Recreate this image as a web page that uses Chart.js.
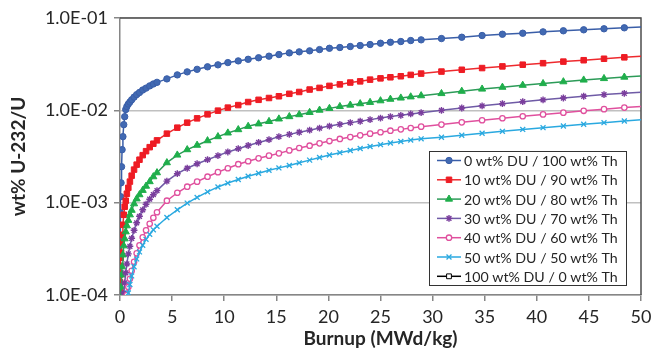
<!DOCTYPE html>
<html>
<head>
<meta charset="utf-8">
<script src="https://cdn.jsdelivr.net/npm/chart.js@4.4.0/dist/chart.umd.min.js"></script>
<style>
  html, body { margin: 0; padding: 0; background: #ffffff; }
  #wrap { width: 668px; height: 352px; position: relative; }
</style>
</head>
<body>
<div id="wrap"><canvas id="u232-chart"></canvas></div>
<script>
// burnup steps (MWd/kg), shared by every series
const burnup = [0, 0.01, 0.02, 0.04, 0.07, 0.1, 0.15, 0.2, 0.28, 0.36, 0.45, 0.55, 0.66, 0.8, 0.95,
  1.12, 1.35, 1.6, 1.87, 2.18, 2.5, 2.85, 3.2, 3.55, 4.5, 5.5, 6.45, 7.4, 8.4, 9.4, 10.35, 11.35,
  12.3, 13.3, 14.3, 15.25, 16.25, 17.2, 18.2, 19.15, 20.1, 21.1, 22.1, 23.05, 24.0, 25.0, 25.95,
  26.95, 27.9, 28.9, 30.85, 32.8, 34.75, 36.7, 38.65, 40.6, 42.55, 44.5, 46.45, 48.4, 50.35];

// wt% U-232/U for each fuel mix
const du0 = [1.0e-4, 1.74e-4, 4.3e-4, 7.8e-4, 1.16e-3, 1.64e-3, 2.45e-3, 3.75e-3, 5.19e-3, 7.0e-3,
  8.54e-3, 1.02e-2, 1.10e-2, 1.17e-2, 1.23e-2, 1.30e-2, 1.39e-2, 1.48e-2, 1.56e-2, 1.66e-2, 1.74e-2,
  1.84e-2, 1.93e-2, 2.01e-2, 0.0219, 0.0242, 0.0261, 0.0278, 0.0296, 0.0311, 0.0329, 0.0343, 0.0357,
  0.0371, 0.0386, 0.0402, 0.0419, 0.0430, 0.0441, 0.0455, 0.0470, 0.0479, 0.0491, 0.0503, 0.0516,
  0.0533, 0.0546, 0.0556, 0.0570, 0.0580, 0.0599, 0.0619, 0.0646, 0.0667, 0.0684, 0.0708, 0.0727,
  0.0745, 0.0764, 0.0783, 0.0800];
const du10 = [1.1e-4, 1.37e-4, 1.67e-4, 2.07e-4, 2.53e-4, 2.87e-4, 3.68e-4, 4.49e-4, 5.76e-4, 7.39e-4,
  9.03e-4, 1.05e-3, 1.25e-3, 1.45e-3, 1.69e-3, 1.96e-3, 2.28e-3, 2.58e-3, 2.92e-3, 3.27e-3, 3.61e-3,
  3.99e-3, 4.35e-3, 4.73e-3, 5.59e-3, 6.49e-3, 7.35e-3, 8.19e-3, 9.05e-3, 9.92e-3, 1.07e-2, 1.14e-2,
  1.23e-2, 1.30e-2, 1.36e-2, 1.42e-2, 1.51e-2, 1.58e-2, 1.68e-2, 1.75e-2, 1.84e-2, 1.91e-2, 2.00e-2,
  2.06e-2, 2.15e-2, 2.22e-2, 2.28e-2, 2.34e-2, 2.42e-2, 2.50e-2, 2.63e-2, 2.75e-2, 2.87e-2, 2.99e-2,
  3.12e-2, 3.24e-2, 3.37e-2, 3.49e-2, 3.62e-2, 3.75e-2, 3.87e-2];
const du20 = [4.2e-5, 5.4e-5, 6.6e-5, 8.4e-5, 1.05e-4, 1.22e-4, 1.65e-4, 2.02e-4, 2.72e-4, 3.41e-4,
  4.06e-4, 4.84e-4, 5.62e-4, 6.44e-4, 7.39e-4, 8.28e-4, 9.73e-4, 1.10e-3, 1.22e-3, 1.36e-3, 1.51e-3,
  1.69e-3, 1.91e-3, 2.11e-3, 2.71e-3, 3.28e-3, 3.75e-3, 4.19e-3, 4.69e-3, 5.19e-3, 5.69e-3, 6.18e-3,
  6.71e-3, 7.14e-3, 7.58e-3, 8.07e-3, 8.55e-3, 8.98e-3, 9.49e-3, 1.005e-2, 1.05e-2, 1.10e-2, 1.14e-2,
  1.18e-2, 1.22e-2, 1.27e-2, 1.32e-2, 1.36e-2, 1.40e-2, 1.44e-2, 1.52e-2, 1.61e-2, 1.70e-2, 1.78e-2,
  1.87e-2, 1.95e-2, 2.04e-2, 2.13e-2, 2.21e-2, 2.29e-2, 2.37e-2];
const du30 = [4.4e-6, 8.3e-6, 1.06e-5, 1.54e-5, 2.24e-5, 2.88e-5, 3.99e-5, 5.37e-5, 7.81e-5, 1.05e-4,
  1.35e-4, 1.74e-4, 2.17e-4, 2.79e-4, 3.37e-4, 4.11e-4, 5.02e-4, 6.05e-4, 7.12e-4, 8.37e-4, 9.61e-4,
  1.09e-3, 1.22e-3, 1.35e-3, 1.71e-3, 2.06e-3, 2.36e-3, 2.64e-3, 2.92e-3, 3.23e-3, 3.54e-3, 3.84e-3,
  4.16e-3, 4.49e-3, 4.81e-3, 5.19e-3, 5.49e-3, 5.79e-3, 6.10e-3, 6.43e-3, 6.75e-3, 7.05e-3, 7.36e-3,
  7.62e-3, 7.93e-3, 8.25e-3, 8.55e-3, 8.83e-3, 9.14e-3, 9.44e-3, 1.00e-2, 1.06e-2, 1.12e-2, 1.18e-2,
  1.24e-2, 1.30e-2, 1.36e-2, 1.42e-2, 1.48e-2, 1.53e-2, 1.58e-2];
const du40 = [7.7e-7, 1.63e-6, 2.68e-6, 5.01e-6, 8.89e-6, 1.26e-5, 1.98e-5, 2.67e-5, 3.88e-5, 5.11e-5,
  6.56e-5, 8.21e-5, 1.00e-4, 1.22e-4, 1.50e-4, 1.83e-4, 2.29e-4, 2.83e-4, 3.45e-4, 4.21e-4, 5.02e-4,
  5.90e-4, 6.86e-4, 7.87e-4, 1.05e-3, 1.28e-3, 1.49e-3, 1.69e-3, 1.91e-3, 2.14e-3, 2.36e-3, 2.61e-3,
  2.81e-3, 3.02e-3, 3.23e-3, 3.42e-3, 3.68e-3, 3.91e-3, 4.14e-3, 4.39e-3, 4.65e-3, 4.90e-3, 5.13e-3,
  5.36e-3, 5.59e-3, 5.79e-3, 6.02e-3, 6.22e-3, 6.44e-3, 6.66e-3, 7.01e-3, 7.41e-3, 7.81e-3, 8.21e-3,
  8.63e-3, 9.03e-3, 9.44e-3, 9.88e-3, 1.03e-2, 1.07e-2, 1.11e-2];
const du50 = [5e-8, 1.34e-7, 2.83e-7, 7.69e-7, 2.09e-6, 3.9e-6, 8.25e-6, 1.47e-5, 2.54e-5, 3.69e-5,
  5.11e-5, 6.56e-5, 8.42e-5, 1.05e-4, 1.30e-4, 1.61e-4, 2.02e-4, 2.46e-4, 2.93e-4, 3.45e-4, 4.01e-4,
  4.54e-4, 5.08e-4, 5.55e-4, 6.91e-4, 8.37e-4, 9.90e-4, 1.14e-3, 1.31e-3, 1.48e-3, 1.63e-3, 1.78e-3,
  1.93e-3, 2.08e-3, 2.24e-3, 2.38e-3, 2.53e-3, 2.70e-3, 2.89e-3, 3.08e-3, 3.28e-3, 3.48e-3, 3.67e-3,
  3.86e-3, 4.06e-3, 4.25e-3, 4.43e-3, 4.60e-3, 4.76e-3, 4.91e-3, 5.11e-3, 5.37e-3, 5.64e-3, 5.92e-3,
  6.21e-3, 6.49e-3, 6.77e-3, 7.07e-3, 7.35e-3, 7.66e-3, 7.95e-3];
// pure DU stays below the plotted range
const du100 = [];

const seriesLabels = ["0 wt% DU / 100 wt% Th", "10 wt% DU / 90 wt% Th", "20 wt% DU / 80 wt% Th",
  "30 wt% DU / 70 wt% Th", "40 wt% DU / 60 wt% Th", "50 wt% DU / 50 wt% Th", "100 wt% DU / 0 wt% Th"];
const seriesValues = [du0, du10, du20, du30, du40, du50, du100];

const yTickValues = [1e-4, 1e-3, 1e-2, 1e-1];
const yTickLabels = ["1.0E-04", "1.0E-03", "1.0E-02", "1.0E-01"];

const styles = [
  { line: "#3a5ea8", fill: "#4169b2", edge: "#3a5ea8", shape: "circle", r: 3.2, bw: 1 },
  { line: "#ee2a2e", fill: "#ee1c24", edge: "#ee1c24", shape: "rect", r: 3.9, bw: 1 },
  { line: "#2c9b58", fill: "#1fae4b", edge: "#1fae4b", shape: "triangle", r: 4.1, bw: 1 },
  { line: "#6f5ba6", fill: "#7a3e9d", edge: "#7a3e9d", shape: "star", r: 3.4, bw: 1.4 },
  { line: "#e0509e", fill: "#ffffff", edge: "#e0509e", shape: "circle", r: 2.7, bw: 1.3 },
  { line: "#2aa9e0", fill: "#2aa9e0", edge: "#2aa9e0", shape: "crossRot", r: 3.5, bw: 1.3 },
  { line: "#000000", fill: "#ffffff", edge: "#000000", shape: "rect", r: 3.4, bw: 1 },
];

const font = "Lato, 'Open Sans', sans-serif";

const datasets = seriesLabels.map((label, i) => ({
  label: label,
  data: seriesValues[i].map((v, k) => ({ x: burnup[k], y: v })),
  borderColor: styles[i].line,
  borderWidth: 1.5,
  pointStyle: styles[i].shape,
  pointRadius: styles[i].r,
  pointBackgroundColor: styles[i].fill,
  pointBorderColor: styles[i].edge,
  pointBorderWidth: styles[i].bw,
  tension: 0,
  order: 10 - i,
}));

// dark frame on top and right of the plot area
const plotFrame = {
  id: "plotFrame",
  beforeDatasetsDraw(chart) {
    const { ctx, chartArea: a } = chart;
    ctx.save();
    ctx.strokeStyle = "#4d4d4d";
    ctx.lineWidth = 1.5;
    ctx.beginPath();
    ctx.moveTo(a.left, a.top);
    ctx.lineTo(a.right, a.top);
    ctx.lineTo(a.right, a.bottom);
    ctx.stroke();
    ctx.restore();
  },
};

// legend box inside the plot, bottom right
const legendInPlot = {
  id: "legendInPlot",
  afterDatasetsDraw(chart) {
    const { ctx, chartArea } = chart;
    const w = 197, h = 134;
    const left = Math.round(chartArea.right - 15 - w);
    const top = Math.round(chartArea.bottom - 10 - h);
    ctx.save();
    ctx.fillStyle = "#ffffff";
    ctx.fillRect(left, top, w, h);
    ctx.strokeStyle = "#333333";
    ctx.lineWidth = 1;
    ctx.strokeRect(left + 0.5, top + 0.5, w, h);
    ctx.font = "14.2px " + font;
    ctx.textBaseline = "middle";
    ctx.textAlign = "left";
    chart.data.datasets.forEach((ds, i) => {
      const y = top + 9.5 + i * 19.3;
      ctx.strokeStyle = ds.borderColor;
      ctx.lineWidth = 1.5;
      ctx.beginPath();
      ctx.moveTo(left + 8, y);
      ctx.lineTo(left + 32, y);
      ctx.stroke();
      ctx.fillStyle = ds.pointBackgroundColor;
      ctx.strokeStyle = ds.pointBorderColor;
      ctx.lineWidth = ds.pointBorderWidth;
      Chart.helpers.drawPoint(ctx, {
        pointStyle: ds.pointStyle,
        radius: ds.pointRadius,
        borderWidth: ds.pointBorderWidth,
        rotation: 0,
      }, left + 20, y);
      ctx.fillStyle = "#262626";
      ctx.fillText(ds.label, left + 35, y + 1);
    });
    ctx.restore();
  },
};

const options = {
  responsive: true,
  maintainAspectRatio: false,
  animation: false,
  events: [],
  layout: { padding: { top: 18, right: 27, left: 0, bottom: 0 } },
  plugins: {
    legend: { display: false },
    tooltip: { enabled: false },
  },
  scales: {
    x: {
      type: "linear",
      min: 0,
      max: 50,
      afterFit: (scale) => { scale.height = 57; },
      ticks: {
        stepSize: 5,
        padding: 5,
        color: "#262626",
        font: { family: font, size: 18 },
      },
      grid: {
        drawOnChartArea: false,
        drawTicks: true,
        tickLength: 6,
        color: "#868686",
        lineWidth: 1.5,
      },
      border: { color: "#868686", width: 1.5 },
      title: {
        display: true,
        text: "Burnup (MWd/kg)",
        color: "#262626",
        padding: { top: 0, bottom: 2 },
        font: { family: font, size: 19, weight: "bold" },
      },
    },
    y: {
      type: "logarithmic",
      min: 1e-4,
      max: 1e-1,
      afterFit: (scale) => { scale.width = 120; },
      afterBuildTicks: (scale) => {
        scale.ticks = yTickValues.map((v) => ({ value: v }));
      },
      ticks: {
        padding: 6,
        color: "#262626",
        font: { family: font, size: 18 },
        callback: (value) => yTickLabels[yTickValues.indexOf(value)],
      },
      grid: {
        color: "#c0c0c0",
        lineWidth: 1.5,
        tickLength: 6,
        tickColor: "#868686",
      },
      border: { color: "#868686", width: 1.5 },
      title: {
        display: true,
        text: "wt% U-232/U",
        color: "#262626",
        padding: { top: 7, bottom: 0 },
        font: { family: font, size: 19, weight: "bold" },
      },
    },
  },
};

new Chart(document.getElementById("u232-chart"), {
  type: "line",
  data: { datasets: datasets },
  options: options,
  plugins: [plotFrame, legendInPlot],
});
</script>
</body>
</html>
